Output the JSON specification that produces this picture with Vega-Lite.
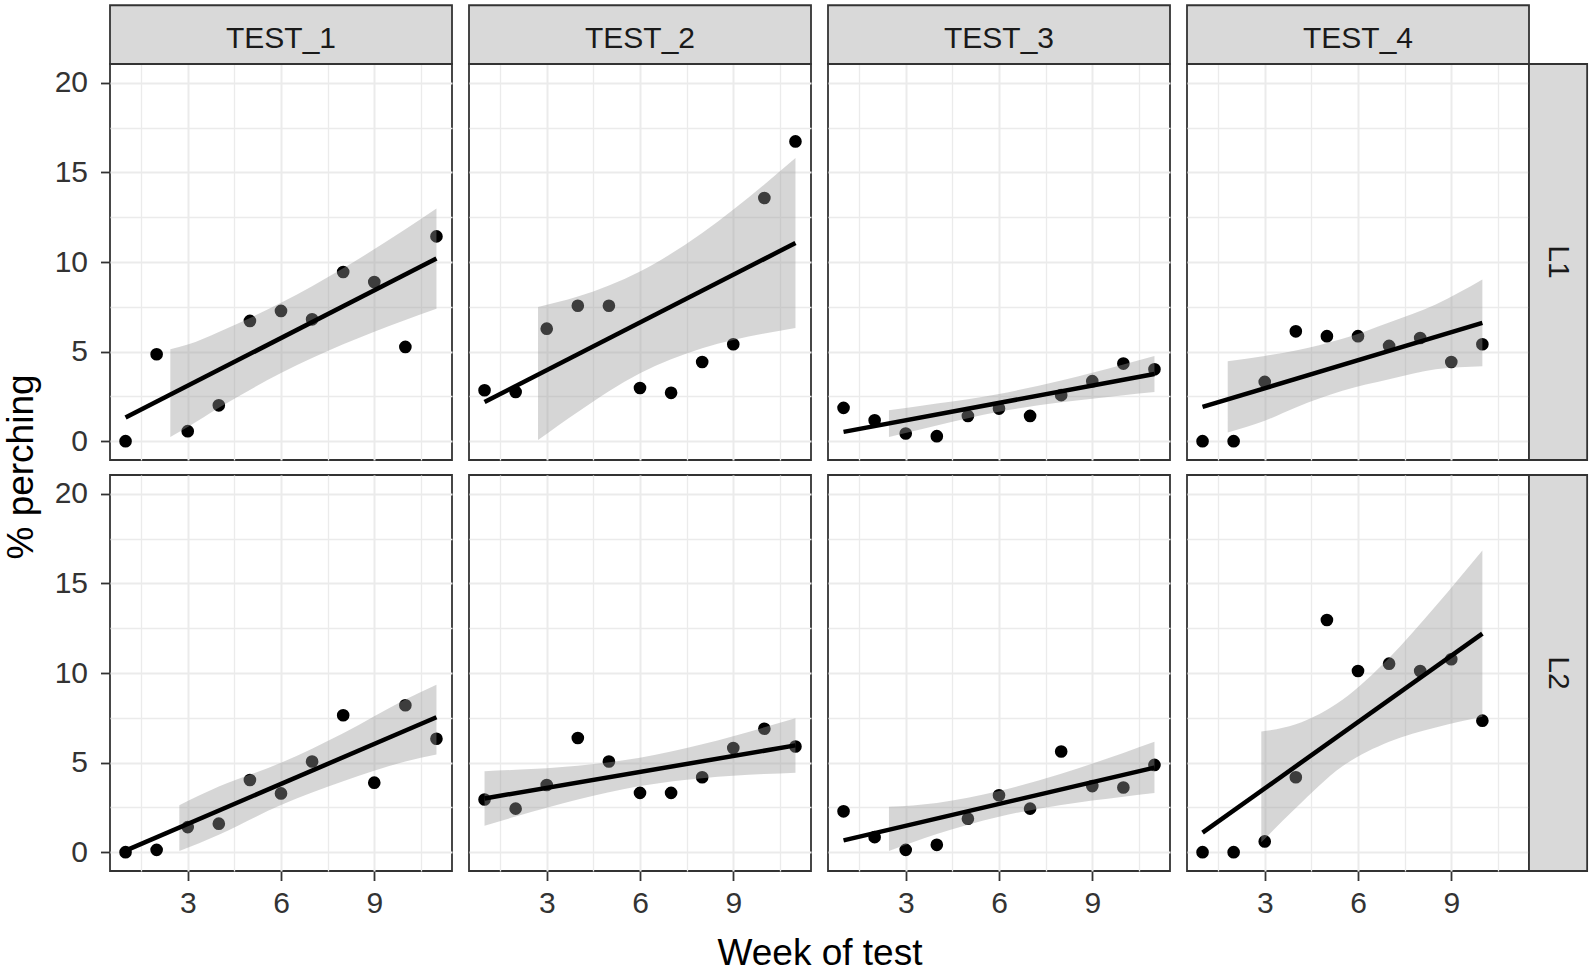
{
  "$schema": "https://vega.github.io/schema/vega-lite/v6.json",
  "background": "white",
  "padding": {"left": 2, "top": 3, "right": 3, "bottom": 0},
  "data": {"values": [
    {"kind":"pt","test":"TEST_1","line":"L1","week":1,"pct":0.0},
    {"kind":"pt","test":"TEST_1","line":"L1","week":2,"pct":4.85},
    {"kind":"pt","test":"TEST_1","line":"L1","week":3,"pct":0.56},
    {"kind":"pt","test":"TEST_1","line":"L1","week":4,"pct":2.0},
    {"kind":"pt","test":"TEST_1","line":"L1","week":5,"pct":6.71},
    {"kind":"pt","test":"TEST_1","line":"L1","week":6,"pct":7.27},
    {"kind":"pt","test":"TEST_1","line":"L1","week":7,"pct":6.8},
    {"kind":"pt","test":"TEST_1","line":"L1","week":8,"pct":9.44},
    {"kind":"pt","test":"TEST_1","line":"L1","week":9,"pct":8.88},
    {"kind":"pt","test":"TEST_1","line":"L1","week":10,"pct":5.26},
    {"kind":"pt","test":"TEST_1","line":"L1","week":11,"pct":11.43},
    {"kind":"pt","test":"TEST_2","line":"L1","week":1,"pct":2.84},
    {"kind":"pt","test":"TEST_2","line":"L1","week":2,"pct":2.75},
    {"kind":"pt","test":"TEST_2","line":"L1","week":3,"pct":6.28},
    {"kind":"pt","test":"TEST_2","line":"L1","week":4,"pct":7.56},
    {"kind":"pt","test":"TEST_2","line":"L1","week":5,"pct":7.56},
    {"kind":"pt","test":"TEST_2","line":"L1","week":6,"pct":2.97},
    {"kind":"pt","test":"TEST_2","line":"L1","week":7,"pct":2.7},
    {"kind":"pt","test":"TEST_2","line":"L1","week":8,"pct":4.42},
    {"kind":"pt","test":"TEST_2","line":"L1","week":9,"pct":5.41},
    {"kind":"pt","test":"TEST_2","line":"L1","week":10,"pct":13.57},
    {"kind":"pt","test":"TEST_2","line":"L1","week":11,"pct":16.73},
    {"kind":"pt","test":"TEST_3","line":"L1","week":1,"pct":1.86},
    {"kind":"pt","test":"TEST_3","line":"L1","week":2,"pct":1.17},
    {"kind":"pt","test":"TEST_3","line":"L1","week":3,"pct":0.43},
    {"kind":"pt","test":"TEST_3","line":"L1","week":4,"pct":0.28},
    {"kind":"pt","test":"TEST_3","line":"L1","week":5,"pct":1.41},
    {"kind":"pt","test":"TEST_3","line":"L1","week":6,"pct":1.82},
    {"kind":"pt","test":"TEST_3","line":"L1","week":7,"pct":1.41},
    {"kind":"pt","test":"TEST_3","line":"L1","week":8,"pct":2.57},
    {"kind":"pt","test":"TEST_3","line":"L1","week":9,"pct":3.35},
    {"kind":"pt","test":"TEST_3","line":"L1","week":10,"pct":4.33},
    {"kind":"pt","test":"TEST_3","line":"L1","week":11,"pct":4.01},
    {"kind":"pt","test":"TEST_4","line":"L1","week":1,"pct":0.0},
    {"kind":"pt","test":"TEST_4","line":"L1","week":2,"pct":0.0},
    {"kind":"pt","test":"TEST_4","line":"L1","week":3,"pct":3.31},
    {"kind":"pt","test":"TEST_4","line":"L1","week":4,"pct":6.13},
    {"kind":"pt","test":"TEST_4","line":"L1","week":5,"pct":5.86},
    {"kind":"pt","test":"TEST_4","line":"L1","week":6,"pct":5.86},
    {"kind":"pt","test":"TEST_4","line":"L1","week":7,"pct":5.32},
    {"kind":"pt","test":"TEST_4","line":"L1","week":8,"pct":5.76},
    {"kind":"pt","test":"TEST_4","line":"L1","week":9,"pct":4.42},
    {"kind":"pt","test":"TEST_4","line":"L1","week":10,"pct":5.41},
    {"kind":"pt","test":"TEST_1","line":"L2","week":1,"pct":0.0},
    {"kind":"pt","test":"TEST_1","line":"L2","week":2,"pct":0.13},
    {"kind":"pt","test":"TEST_1","line":"L2","week":3,"pct":1.4},
    {"kind":"pt","test":"TEST_1","line":"L2","week":4,"pct":1.59},
    {"kind":"pt","test":"TEST_1","line":"L2","week":5,"pct":4.03},
    {"kind":"pt","test":"TEST_1","line":"L2","week":6,"pct":3.28},
    {"kind":"pt","test":"TEST_1","line":"L2","week":7,"pct":5.06},
    {"kind":"pt","test":"TEST_1","line":"L2","week":8,"pct":7.64},
    {"kind":"pt","test":"TEST_1","line":"L2","week":9,"pct":3.88},
    {"kind":"pt","test":"TEST_1","line":"L2","week":10,"pct":8.2},
    {"kind":"pt","test":"TEST_1","line":"L2","week":11,"pct":6.33},
    {"kind":"pt","test":"TEST_2","line":"L2","week":1,"pct":2.94},
    {"kind":"pt","test":"TEST_2","line":"L2","week":2,"pct":2.43},
    {"kind":"pt","test":"TEST_2","line":"L2","week":3,"pct":3.75},
    {"kind":"pt","test":"TEST_2","line":"L2","week":4,"pct":6.37},
    {"kind":"pt","test":"TEST_2","line":"L2","week":5,"pct":5.06},
    {"kind":"pt","test":"TEST_2","line":"L2","week":6,"pct":3.31},
    {"kind":"pt","test":"TEST_2","line":"L2","week":7,"pct":3.31},
    {"kind":"pt","test":"TEST_2","line":"L2","week":8,"pct":4.18},
    {"kind":"pt","test":"TEST_2","line":"L2","week":9,"pct":5.81},
    {"kind":"pt","test":"TEST_2","line":"L2","week":10,"pct":6.89},
    {"kind":"pt","test":"TEST_2","line":"L2","week":11,"pct":5.9},
    {"kind":"pt","test":"TEST_3","line":"L2","week":1,"pct":2.28},
    {"kind":"pt","test":"TEST_3","line":"L2","week":2,"pct":0.84},
    {"kind":"pt","test":"TEST_3","line":"L2","week":3,"pct":0.13},
    {"kind":"pt","test":"TEST_3","line":"L2","week":4,"pct":0.41},
    {"kind":"pt","test":"TEST_3","line":"L2","week":5,"pct":1.87},
    {"kind":"pt","test":"TEST_3","line":"L2","week":6,"pct":3.18},
    {"kind":"pt","test":"TEST_3","line":"L2","week":7,"pct":2.43},
    {"kind":"pt","test":"TEST_3","line":"L2","week":8,"pct":5.62},
    {"kind":"pt","test":"TEST_3","line":"L2","week":9,"pct":3.69},
    {"kind":"pt","test":"TEST_3","line":"L2","week":10,"pct":3.61},
    {"kind":"pt","test":"TEST_3","line":"L2","week":11,"pct":4.87},
    {"kind":"pt","test":"TEST_4","line":"L2","week":1,"pct":0.0},
    {"kind":"pt","test":"TEST_4","line":"L2","week":2,"pct":0.0},
    {"kind":"pt","test":"TEST_4","line":"L2","week":3,"pct":0.6},
    {"kind":"pt","test":"TEST_4","line":"L2","week":4,"pct":4.18},
    {"kind":"pt","test":"TEST_4","line":"L2","week":5,"pct":12.96},
    {"kind":"pt","test":"TEST_4","line":"L2","week":6,"pct":10.11},
    {"kind":"pt","test":"TEST_4","line":"L2","week":7,"pct":10.52},
    {"kind":"pt","test":"TEST_4","line":"L2","week":8,"pct":10.11},
    {"kind":"pt","test":"TEST_4","line":"L2","week":9,"pct":10.77},
    {"kind":"pt","test":"TEST_4","line":"L2","week":10,"pct":7.34},

    {"kind":"fit","test":"TEST_1","line":"L1","week":1,"pct":1.32},
    {"kind":"fit","test":"TEST_1","line":"L1","week":11,"pct":10.19},
    {"kind":"fit","test":"TEST_2","line":"L1","week":1,"pct":2.19},
    {"kind":"fit","test":"TEST_2","line":"L1","week":11,"pct":11.06},
    {"kind":"fit","test":"TEST_3","line":"L1","week":1,"pct":0.52},
    {"kind":"fit","test":"TEST_3","line":"L1","week":11,"pct":3.75},
    {"kind":"fit","test":"TEST_4","line":"L1","week":1,"pct":1.91},
    {"kind":"fit","test":"TEST_4","line":"L1","week":10,"pct":6.6},
    {"kind":"fit","test":"TEST_1","line":"L2","week":1,"pct":0.09},
    {"kind":"fit","test":"TEST_1","line":"L2","week":11,"pct":7.53},
    {"kind":"fit","test":"TEST_2","line":"L2","week":1,"pct":3.0},
    {"kind":"fit","test":"TEST_2","line":"L2","week":11,"pct":5.96},
    {"kind":"fit","test":"TEST_3","line":"L2","week":1,"pct":0.66},
    {"kind":"fit","test":"TEST_3","line":"L2","week":11,"pct":4.72},
    {"kind":"fit","test":"TEST_4","line":"L2","week":1,"pct":1.09},
    {"kind":"fit","test":"TEST_4","line":"L2","week":10,"pct":12.2},

    {"kind":"band","test":"TEST_1","line":"L1","week":2.44,"lo":0.24,"hi":5.13},
    {"kind":"band","test":"TEST_1","line":"L1","week":3,"lo":0.79,"hi":5.39},
    {"kind":"band","test":"TEST_1","line":"L1","week":4,"lo":1.86,"hi":6.1},
    {"kind":"band","test":"TEST_1","line":"L1","week":6,"lo":3.8,"hi":7.72},
    {"kind":"band","test":"TEST_1","line":"L1","week":8,"lo":5.41,"hi":9.65},
    {"kind":"band","test":"TEST_1","line":"L1","week":10,"lo":6.77,"hi":11.83},
    {"kind":"band","test":"TEST_1","line":"L1","week":11,"lo":7.39,"hi":12.99},
    {"kind":"band","test":"TEST_2","line":"L1","week":2.72,"lo":0.06,"hi":7.49},
    {"kind":"band","test":"TEST_2","line":"L1","week":4,"lo":1.63,"hi":8.07},
    {"kind":"band","test":"TEST_2","line":"L1","week":6,"lo":3.79,"hi":9.47},
    {"kind":"band","test":"TEST_2","line":"L1","week":8,"lo":5.18,"hi":11.62},
    {"kind":"band","test":"TEST_2","line":"L1","week":10,"lo":6.01,"hi":14.33},
    {"kind":"band","test":"TEST_2","line":"L1","week":11,"lo":6.32,"hi":15.8},
    {"kind":"band","test":"TEST_3","line":"L1","week":2.46,"lo":0.24,"hi":1.73},
    {"kind":"band","test":"TEST_3","line":"L1","week":4,"lo":0.88,"hi":2.1},
    {"kind":"band","test":"TEST_3","line":"L1","week":6,"lo":1.64,"hi":2.64},
    {"kind":"band","test":"TEST_3","line":"L1","week":8,"lo":2.17,"hi":3.39},
    {"kind":"band","test":"TEST_3","line":"L1","week":10,"lo":2.57,"hi":4.28},
    {"kind":"band","test":"TEST_3","line":"L1","week":11,"lo":2.75,"hi":4.75},
    {"kind":"band","test":"TEST_4","line":"L1","week":1.81,"lo":0.48,"hi":4.46},
    {"kind":"band","test":"TEST_4","line":"L1","week":3,"lo":1.14,"hi":4.76},
    {"kind":"band","test":"TEST_4","line":"L1","week":4,"lo":1.88,"hi":5.06},
    {"kind":"band","test":"TEST_4","line":"L1","week":5.5,"lo":2.81,"hi":5.71},
    {"kind":"band","test":"TEST_4","line":"L1","week":7,"lo":3.45,"hi":6.63},
    {"kind":"band","test":"TEST_4","line":"L1","week":8.5,"lo":4.01,"hi":7.63},
    {"kind":"band","test":"TEST_4","line":"L1","week":10,"lo":4.18,"hi":9.02},
    {"kind":"band","test":"TEST_1","line":"L2","week":2.73,"lo":0.06,"hi":2.62},
    {"kind":"band","test":"TEST_1","line":"L2","week":4,"lo":0.98,"hi":3.66},
    {"kind":"band","test":"TEST_1","line":"L2","week":6,"lo":2.63,"hi":4.99},
    {"kind":"band","test":"TEST_1","line":"L2","week":8,"lo":3.96,"hi":6.64},
    {"kind":"band","test":"TEST_1","line":"L2","week":10,"lo":5.06,"hi":8.52},
    {"kind":"band","test":"TEST_1","line":"L2","week":11,"lo":5.45,"hi":9.35},
    {"kind":"band","test":"TEST_2","line":"L2","week":1,"lo":1.48,"hi":4.52},
    {"kind":"band","test":"TEST_2","line":"L2","week":2,"lo":1.99,"hi":4.6},
    {"kind":"band","test":"TEST_2","line":"L2","week":4,"lo":2.94,"hi":4.83},
    {"kind":"band","test":"TEST_2","line":"L2","week":6,"lo":3.69,"hi":5.27},
    {"kind":"band","test":"TEST_2","line":"L2","week":8,"lo":4.13,"hi":6.02},
    {"kind":"band","test":"TEST_2","line":"L2","week":10,"lo":4.36,"hi":6.97},
    {"kind":"band","test":"TEST_2","line":"L2","week":11,"lo":4.44,"hi":7.48},
    {"kind":"band","test":"TEST_3","line":"L2","week":2.46,"lo":0.06,"hi":2.53},
    {"kind":"band","test":"TEST_3","line":"L2","week":4,"lo":1.01,"hi":2.75},
    {"kind":"band","test":"TEST_3","line":"L2","week":6,"lo":1.98,"hi":3.41},
    {"kind":"band","test":"TEST_3","line":"L2","week":8,"lo":2.64,"hi":4.38},
    {"kind":"band","test":"TEST_3","line":"L2","week":10,"lo":3.1,"hi":5.54},
    {"kind":"band","test":"TEST_3","line":"L2","week":11,"lo":3.3,"hi":6.16},
    {"kind":"band","test":"TEST_4","line":"L2","week":2.89,"lo":0.55,"hi":6.73},
    {"kind":"band","test":"TEST_4","line":"L2","week":4,"lo":2.46,"hi":7.14},
    {"kind":"band","test":"TEST_4","line":"L2","week":5.5,"lo":4.79,"hi":8.51},
    {"kind":"band","test":"TEST_4","line":"L2","week":7,"lo":6.16,"hi":10.84},
    {"kind":"band","test":"TEST_4","line":"L2","week":8.5,"lo":6.96,"hi":13.74},
    {"kind":"band","test":"TEST_4","line":"L2","week":10,"lo":7.56,"hi":16.84},

    {"kind":"colstrip","test":"TEST_1","line":"L1"},
    {"kind":"colstrip","test":"TEST_2","line":"L1"},
    {"kind":"colstrip","test":"TEST_3","line":"L1"},
    {"kind":"colstrip","test":"TEST_4","line":"L1"},
    {"kind":"rowstrip","test":"TEST_4","line":"L1"},
    {"kind":"rowstrip","test":"TEST_4","line":"L2"},
    {"kind":"balance","test":"TEST_1","line":"L2"}
  ]},
  "facet": {
    "column": {"field": "test", "type": "nominal", "sort": ["TEST_1","TEST_2","TEST_3","TEST_4"],
      "header": {"title": "Week of test", "titleOrient": "bottom", "labels": false, "titlePadding": 7}},
    "row": {"field": "line", "type": "nominal", "sort": ["L1","L2"],
      "header": {"title": "% perching", "titleOrient": "left", "labels": false, "titlePadding": 3}}
  },
  "spacing": {"row": 15, "column": 17},
  "bounds": "flush",
  "spec": {
    "width": 342,
    "height": 396,
    "layer": [
      {
        "transform": [{"filter": "datum.kind === 'pt'"}],
        "mark": {"type": "point", "filled": true, "size": 160, "color": "black", "opacity": 1},
        "encoding": {
          "x": {"field": "week", "type": "quantitative", "title": null,
            "scale": {"domain": [0.5, 11.5], "nice": false, "zero": false},
            "axis": {"title": null, "values": [1.5,3,4.5,6,7.5,9,10.5], "labelFlush": false,
              "labelExpr": "datum.value % 3 === 0 ? datum.label : ''",
              "tickOpacity": {"condition": {"test": "datum.value % 3 === 0", "value": 1}, "value": 0},
              "gridWidth": {"condition": {"test": "datum.value % 3 === 0", "value": 2}, "value": 1.3}}},
          "y": {"field": "pct", "type": "quantitative", "title": null,
            "scale": {"domain": [-1.05, 21.05], "nice": false, "zero": false},
            "axis": {"title": null, "values": [0,2.5,5,7.5,10,12.5,15,17.5,20], "labelFlush": false,
              "labelExpr": "datum.value % 5 === 0 ? datum.label : ''",
              "tickOpacity": {"condition": {"test": "datum.value % 5 === 0", "value": 1}, "value": 0},
              "gridWidth": {"condition": {"test": "datum.value % 5 === 0", "value": 2}, "value": 1.3}}}
        }
      },
      {
        "transform": [{"filter": "datum.kind === 'band'"}],
        "mark": {"type": "area", "color": "#999999", "opacity": 0.4, "interpolate": "monotone"},
        "encoding": {
          "x": {"field": "week", "type": "quantitative", "title": null},
          "y": {"field": "lo", "type": "quantitative", "title": null},
          "y2": {"field": "hi"}
        }
      },
      {
        "transform": [{"filter": "datum.kind === 'fit'"}],
        "mark": {"type": "line", "color": "black", "strokeWidth": 4.5},
        "encoding": {
          "x": {"field": "week", "type": "quantitative", "title": null},
          "y": {"field": "pct", "type": "quantitative", "title": null}
        }
      },
      {
        "transform": [{"filter": "datum.kind === 'colstrip'"}],
        "mark": {"type": "rect", "fill": "#D9D9D9", "stroke": "#333333", "strokeWidth": 1.8},
        "encoding": {
          "x": {"datum": 0.5, "type": "quantitative"},
          "x2": {"datum": 11.5},
          "y": {"datum": 21.05, "type": "quantitative"},
          "y2": {"datum": 24.33}
        }
      },
      {
        "transform": [{"filter": "datum.kind === 'colstrip'"}],
        "mark": {"type": "text", "font": "Liberation Sans", "fontSize": 30, "color": "#1A1A1A", "align": "center", "baseline": "middle"},
        "encoding": {
          "x": {"datum": 6, "type": "quantitative"},
          "y": {"datum": 22.42, "type": "quantitative"},
          "text": {"field": "test"}
        }
      },
      {
        "transform": [{"filter": "datum.kind === 'rowstrip'"}],
        "mark": {"type": "rect", "fill": "#D9D9D9", "stroke": "#333333", "strokeWidth": 1.8},
        "encoding": {
          "x": {"datum": 11.5, "type": "quantitative"},
          "x2": {"datum": 13.37},
          "y": {"datum": -1.05, "type": "quantitative"},
          "y2": {"datum": 21.05}
        }
      },
      {
        "transform": [{"filter": "datum.kind === 'rowstrip'"}],
        "mark": {"type": "text", "font": "Liberation Sans", "fontSize": 30, "color": "#1A1A1A", "align": "center", "baseline": "middle", "angle": 90},
        "encoding": {
          "x": {"datum": 12.43, "type": "quantitative"},
          "y": {"datum": 10, "type": "quantitative"},
          "text": {"field": "line"}
        }
      },
      {
        "transform": [{"filter": "datum.kind === 'balance'"}],
        "mark": {"type": "rect", "opacity": 0, "fill": "white"},
        "encoding": {
          "x": {"datum": -1.37, "type": "quantitative"},
          "x2": {"datum": 0.5},
          "y": {"datum": -4.33, "type": "quantitative"},
          "y2": {"datum": -1.05}
        }
      }
    ]
  },
  "config": {
    "view": {"stroke": "#333333", "strokeWidth": 1.8, "fill": "white"},
    "axis": {"labelFont": "Liberation Sans", "labelFontSize": 30, "labelColor": "#333333",
      "tickColor": "#333333", "tickWidth": 1.8, "tickSize": 9.5, "gridColor": "#EBEBEB",
      "domain": false, "labelPadding": 8},
    "axisY": {"labelPadding": 13},
    "header": {"titleFont": "Liberation Sans", "titleFontSize": 37, "titleFontWeight": "normal", "titleColor": "black"}
  }
}
